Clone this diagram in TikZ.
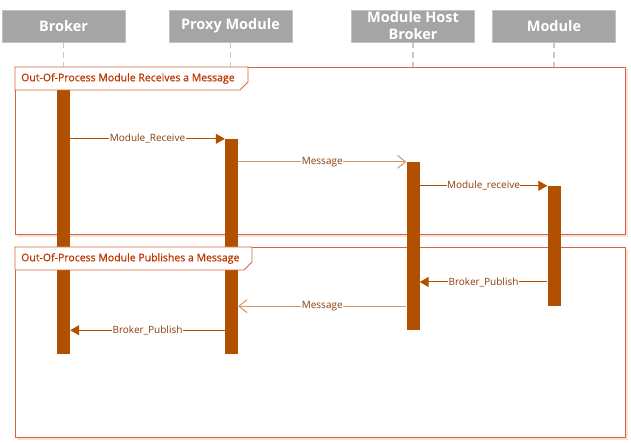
\documentclass[tikz,border=0pt]{standalone}
\usepackage{fontspec}
\setmainfont{Open Sans}
\newfontfamily\tagfont[RawFeature={embolden=0.8}]{Open Sans}
\usetikzlibrary{arrows.meta}
\definecolor{headgray}{RGB}{165,165,165}
\definecolor{headedge}{RGB}{195,195,195}
\definecolor{lifegray}{RGB}{200,200,200}
\definecolor{barcol}{RGB}{176,80,0}
\definecolor{framecol}{RGB}{214,100,60}
\definecolor{shadecol}{RGB}{245,225,215}
\definecolor{tagtext}{RGB}{190,55,0}
\definecolor{msgtext}{RGB}{140,60,10}
\definecolor{asynccol}{RGB}{212,150,100}
\begin{document}
\begin{tikzpicture}[x=1pt,y=-1pt,
    head/.style={fill=headgray,draw=headedge,minimum width=123pt,minimum height=32pt,
      inner sep=0pt,text=white,align=center,font=\fontsize{14.5}{17}\selectfont\bfseries},
    life/.style={draw=lifegray,line width=1.2pt,dash pattern=on 6pt off 4pt},
    bar/.style={fill=barcol,minimum width=13pt,inner sep=0pt},
    frame/.style={draw=framecol,line width=0.9pt},
    tag/.style={anchor=west,inner sep=0pt,text=tagtext,font=\tagfont\fontsize{10.5}{12}\selectfont},
    call/.style={draw=barcol,line width=1pt,-{Triangle[length=9pt,width=10pt]}},
    async/.style={draw=asynccol,line width=1pt,-{Straight Barb[length=8pt,width=13pt]}},
    msg/.style={fill=white,inner sep=0.5pt,text=msgtext,font=\fontsize{10}{12}\selectfont}]
  \useasboundingbox (0,0) rectangle (631,443);
  % Heads
  \node[head] (hB) at (63.5,26) {Broker};
  \node[head] (hP) at (230.5,26) {Proxy Module};
  \node[head] (hH) at (413,26) {Module Host\\Broker};
  \node[head] (hM) at (554,26) {Module};
  % Lifelines
  \coordinate (end) at (0,392);
  \draw[life] (hB.south) -- (hB.south |- end);
  \draw[life] (hP.south) -- (hP.south |- end);
  \draw[life] (hH.south) -- (hH.south |- end);
  \draw[life] (hM.south) -- (hM.south |- end);
  % Frames
  \draw[shadecol,line width=2pt] (17,236) -- (627,236) -- (627,69);
  \draw[shadecol,line width=2pt] (17,439) -- (627,439) -- (627,249);
  \draw[frame,fill=white] (15,67) rectangle (625,234);
  \draw[frame,fill=white] (15,247) rectangle (625,437);
  % Bars
  \node[bar,minimum height=264pt] (bB) at (63.5,222) {};
  \node[bar,minimum height=215pt] (bP) at (231.5,246.5) {};
  \node[bar,minimum height=168pt] (bH) at (413,246) {};
  \node[bar,minimum height=120pt] (bM) at (554,246) {};
  % Tags
  \draw[frame,fill=white] (15,67) -- (248,67) -- (248,82) -- (240,90) -- (15,90) -- cycle;
  \node[tag] (t1) at (21,78.5) {Out-Of-Process Module Receives a Message};
  \draw[frame,fill=white] (15,247) -- (252,247) -- (252,262) -- (244,270) -- (15,270) -- cycle;
  \node[tag] (t2) at (21,258.5) {Out-Of-Process Module Publishes a Message};
  % Messages
  \coordinate (y4) at (0,282);
  \draw[call] (bB.east |- bP.north) -- node[msg]{Module\_Receive} (bP.north west);
  \draw[async] (bP.east |- bH.north) -- node[msg]{Message} (bH.north west);
  \draw[call] (bH.east |- bM.north) -- node[msg]{Module\_receive} (bM.north west);
  \draw[call] (bM.west |- y4) -- node[msg]{Broker\_Publish} (bH.east |- y4);
  \draw[async] (bH.west |- bM.south) -- node[msg]{Message} (bP.east |- bM.south);
  \draw[call] (bP.west |- bH.south) -- node[msg]{Broker\_Publish} (bB.east |- bH.south);
\end{tikzpicture}
\end{document}
